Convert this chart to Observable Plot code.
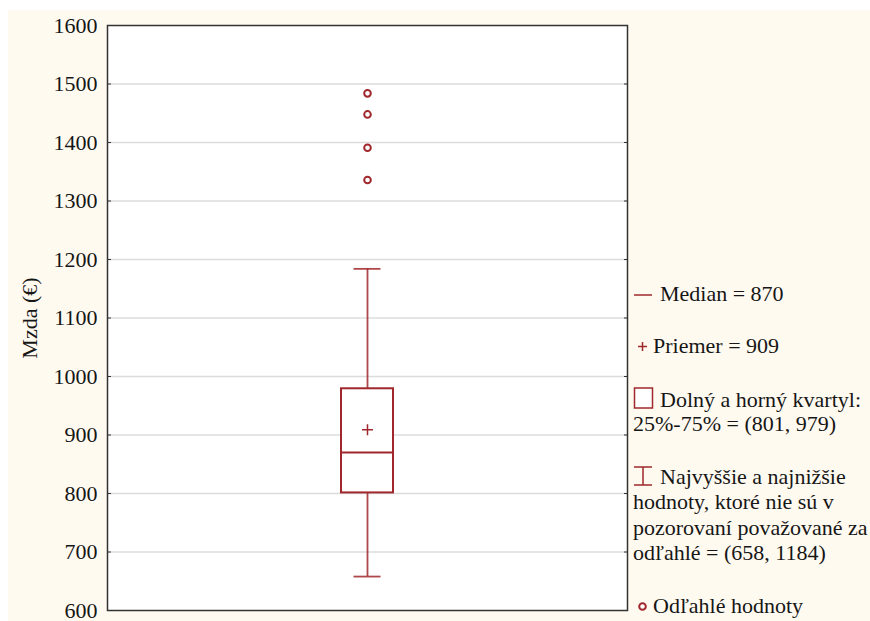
<!DOCTYPE html>
<html>
<head>
<meta charset="utf-8">
<script src="https://cdn.jsdelivr.net/npm/d3@7"></script>
<script src="https://cdn.jsdelivr.net/npm/@observablehq/plot@0.6"></script>
<style>
  html, body { margin: 0; padding: 0; background: #ffffff; }
  #chart { position: absolute; left: 8px; top: 10px; }
  #chart svg text { font-family: 'Liberation Serif', serif; }
  .legend { position: absolute; font-family: 'Liberation Serif', serif; font-size: 22px; line-height: 24.5px; color: #161616; white-space: nowrap; }
  .legend svg { overflow: visible; }
</style>
</head>
<body>
<div id="chart"></div>
<div id="legend"></div>
<script>
// Wage distribution (Mzda, €): five-number summary, mean and outliers
const category = ["Mzda"];
const quartiles = [801, 979];      // lower and upper quartile
const median = [870];
const mean = [909];
const whiskers = [658, 1184];      // lowest and highest non-outlier values
const outliers = [1336, 1391, 1448, 1484];
const yTicks = [600, 700, 800, 900, 1000, 1100, 1200, 1300, 1400, 1500, 1600];
const yLabel = "Mzda (€)";

const red = "#a0282c";
const c = category[0];

const chart = Plot.plot({
  width: 862,
  height: 611,
  marginLeft: 99,
  marginTop: 15,
  marginRight: 243,
  marginBottom: 11,
  style: { background: "#fffaf0", fontFamily: "'Liberation Serif', serif", fontSize: "22px", color: "#161616", overflow: "visible" },
  x: { type: "band", domain: category, padding: 0, axis: null },
  y: { domain: [yTicks[0], yTicks[yTicks.length - 1]] },
  marks: [
    Plot.frame({ fill: "white" }),
    Plot.gridY(yTicks.slice(1, -1), { stroke: "#dcdcdc", strokeOpacity: 1, strokeWidth: 1.5 }),
    Plot.axisY(yTicks, { anchor: "left", tickSize: 0, tickPadding: 10, tickFormat: "d", label: yLabel, labelAnchor: "center", labelArrow: "none", labelOffset: 86 }),
    Plot.axisY(yTicks, { anchor: "left", tickSize: -4, tickFormat: () => "", label: null, stroke: "#333" }),
    Plot.axisY(yTicks, { anchor: "right", tickSize: -4, tickFormat: () => "", label: null, stroke: "#333" }),
    // whiskers
    Plot.ruleX(category, { x: d => d, y1: quartiles[1], y2: whiskers[1], stroke: red, strokeWidth: 1.8, strokeOpacity: 0.85 }),
    Plot.ruleX(category, { x: d => d, y1: whiskers[0], y2: quartiles[0], stroke: red, strokeWidth: 1.8, strokeOpacity: 0.85 }),
    Plot.tickY(whiskers, { x: () => c, y: d => d, stroke: red, strokeWidth: 1.8, strokeOpacity: 0.85, inset: 246.5 }),
    // box
    Plot.barY(category, { x: d => d, y1: quartiles[0], y2: quartiles[1], fill: "white", stroke: red, strokeWidth: 2, insetLeft: 234, insetRight: 234 }),
    Plot.tickY(median, { x: () => c, y: d => d, stroke: red, strokeWidth: 2, inset: 234 }),
    Plot.dot(mean, { x: () => c, y: d => d, symbol: "plus", r: 3.6, stroke: red, strokeWidth: 1.5 }),
    // outliers
    Plot.dot(outliers, { x: () => c, y: d => d, symbol: "circle", r: 3.3, fill: "white", stroke: red, strokeWidth: 2 }),
    Plot.frame({ stroke: "#333", strokeWidth: 1.5 })
  ]
});
document.getElementById("chart").append(chart);

// Legend to the right of the plot frame
const sym = {
  line: `<svg width="27" height="12" style="vertical-align:0"><line x1="1" x2="19" y1="6" y2="6" stroke="${red}" stroke-width="1.5"/></svg>`,
  plus: `<svg width="20" height="12" style="vertical-align:0"><path d="M5,5.5h9M9.5,1v9" stroke="${red}" stroke-width="1.5"/></svg>`,
  box: `<svg width="27" height="22" style="vertical-align:-2px"><rect x="1.5" y="1" width="18" height="20" fill="white" stroke="${red}" stroke-width="1.5"/></svg>`,
  whisker: `<svg width="27" height="20" style="vertical-align:-2px"><path d="M1,1h18M10,1v18M1,19h18" stroke="${red}" stroke-width="1.5" fill="none"/></svg>`,
  circle: `<svg width="20" height="12" style="vertical-align:0"><circle cx="9.5" cy="5.5" r="3.3" fill="white" stroke="${red}" stroke-width="2"/></svg>`
};
const entries = [
  { top: 282, lh: 24.5, html: `${sym.line}Median = ${median[0]}` },
  { top: 334, lh: 24.5, html: `${sym.plus}Priemer = ${mean[0]}` },
  { top: 387, lh: 24, html: `${sym.box}Dolný a horný kvartyl:<br>25%-75% = (${quartiles[0]}, ${quartiles[1]})` },
  { top: 464, lh: 25.3, html: `${sym.whisker}Najvyššie a najnižšie<br>hodnoty, ktoré nie sú v<br>pozorovaní považované za<br>odľahlé = (${whiskers[0]}, ${whiskers[1]})` },
  { top: 594, lh: 24.5, html: `${sym.circle}Odľahlé hodnoty` }
];
const legend = document.getElementById("legend");
for (const e of entries) {
  const div = document.createElement("div");
  div.className = "legend";
  div.style.left = "633px";
  div.style.top = e.top + "px";
  div.style.lineHeight = e.lh + "px";
  div.innerHTML = e.html;
  legend.append(div);
}
</script>
</body>
</html>
